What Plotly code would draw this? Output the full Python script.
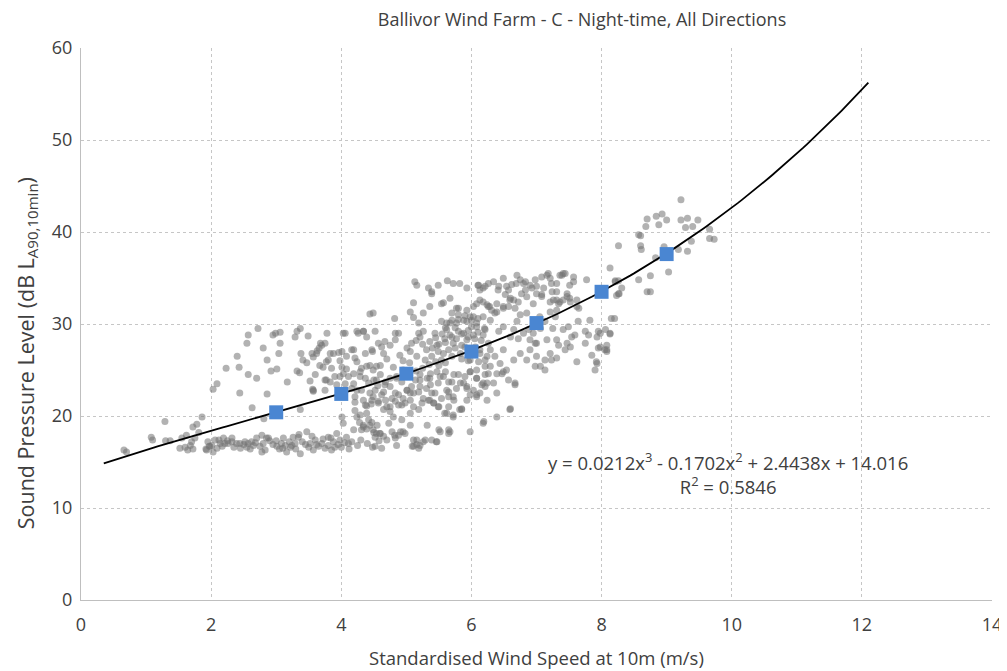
import numpy as np
import plotly.graph_objects as go

# ---------------- data ----------------
# 10-minute measurements: (standardised wind speed m/s, LA90 dB)
pts_low_speed = [
    (0.66,16.3),(0.70,16.1),(1.08,17.7),(1.10,17.4),(1.29,19.4),(1.30,17.3),(1.37,17.3),(1.52,16.5),
    (1.55,17.6),(1.62,17.9),(1.64,16.3),(1.68,16.8),(1.72,16.4),(1.72,18.8),(1.78,19.1),(1.81,18.2),
    (1.86,19.9),(1.92,16.4),(1.97,16.7),(1.70,17.2),(1.75,17.6),(1.60,16.6),(1.95,17.2),(1.93,16.3),(1.98,16.7),
]
pts_band_2_45 = [
    (2.01,16.8),(2.03,16.1),(2.09,16.5),(2.14,17.0),(2.19,17.6),(2.21,17.0),(2.26,17.0),(2.32,17.6),(2.39,17.0),
    (2.44,17.0),(2.52,17.2),(2.57,17.0),(2.62,17.2),(2.65,16.8),(2.75,16.7),(2.78,17.9),(2.80,17.0),(2.85,17.6),
    (2.78,16.1),(2.83,16.3),(2.88,17.6),(3.01,16.7),(3.08,17.0),(3.11,17.6),(3.14,16.8),(3.16,16.1),(3.24,16.8),
    (3.26,17.7),(3.29,17.0),(3.34,17.7),(3.37,15.9),(3.47,18.3),(3.52,17.0),(3.57,16.3),(3.65,16.7),(3.80,16.8),
    (3.80,17.7),(3.85,16.3),(3.88,17.2),(3.93,18.1),(3.98,17.4),(4.08,17.7),(4.11,17.0),(4.16,17.2),(4.19,18.5),
    (4.31,18.5),(4.34,18.8),(4.44,19.0),(4.49,18.5),(4.52,17.7),(4.54,18.1),
    (2.45,16.5),(2.50,16.9),(2.60,16.4),(2.70,17.6),(2.90,17.3),(3.00,17.3),(3.05,16.4),(3.20,17.2),(3.30,16.4),
    (3.40,17.2),(3.45,16.9),(3.60,17.4),(3.70,17.0),(3.75,16.5),(3.90,16.6),(4.00,16.6),(3.55,17.8),(3.35,18.0),
    (2.06,17.4),(2.12,17.4),(2.25,17.3),(2.32,17.2),(2.17,16.7),(2.35,16.6),(2.55,16.6),(2.68,17.1),(2.95,16.9),
    (3.10,16.5),(3.22,16.6),(3.50,16.6),(3.62,16.9),(3.72,17.5),(3.84,17.6),(3.95,16.9),(4.05,17.1),(4.12,16.4),
    (4.25,16.8),(4.30,17.4),(4.40,17.0),(4.48,16.6),(4.58,17.3),(4.62,16.5),
]
pts_mid_2_45 = [
    (2.03,22.9),(2.09,23.5),(2.44,22.5),(2.63,20.9),(2.86,22.4),(2.81,19.7),(3.37,20.7),(3.52,23.8),(3.56,22.9),
    (3.57,22.7),(4.01,19.9),(4.03,19.2),(4.21,20.6),(4.24,19.9),(4.29,20.1),(4.39,20.3),(4.19,23.5),(4.24,22.8),
    (4.21,21.5),(4.28,19.3),(4.34,19.0),(4.39,18.6),(4.42,19.6),(4.50,18.2),(4.47,19.3),(4.34,21.7),(4.39,21.1),
    (4.46,21.3),(4.49,22.1),(4.56,23.3),(3.17,23.7),(3.77,23.9),(3.83,23.7),(3.57,22.8),(3.75,22.8),(3.93,23.4),
    (4.16,23.0),(4.21,22.1),(4.31,22.8),(4.37,21.2),(4.44,22.5),(4.47,21.7),(4.52,22.8),(4.57,21.4),
]
pts_high_2_45 = [
    (2.23,25.2),(2.40,26.5),(2.43,25.3),(2.55,27.9),(2.57,28.8),(2.72,29.5),(2.57,24.5),(2.70,24.1),(2.80,27.4),
    (2.86,26.1),(2.92,24.9),(3.01,25.1),(2.95,28.8),(2.99,29.0),(3.06,29.1),(3.06,27.9),(3.04,26.8),(3.29,28.6),
    (3.32,29.2),(3.37,29.5),(3.38,26.8),(3.32,24.9),(3.36,24.7),(3.41,26.1),(3.47,25.8),(3.49,28.7),(3.55,26.8),
    (3.57,26.4),(3.63,27.1),(3.66,27.4),(3.68,27.9),(3.75,27.9),(3.67,25.5),(3.72,25.3),(3.77,25.9),(3.80,26.1),
    (3.78,29.0),(3.88,26.8),(3.96,26.9),(4.01,27.0),(4.03,29.0),(4.06,29.0),(3.98,26.0),(4.01,25.3),(4.08,25.1),
    (4.11,24.3),(4.19,27.2),(4.21,26.3),(4.26,29.0),(4.34,29.2),(4.37,26.8),(4.39,28.6),(4.44,31.1),(4.52,29.2),
    (4.48,27.0),(4.44,25.5),(4.49,25.0),
    (3.60,24.5),(3.75,23.9),(3.85,25.2),(3.90,24.3),(4.03,24.6),(4.29,24.3),(4.42,23.6),(4.54,23.9),(3.62,26.8),
    (3.70,27.7),(3.83,26.8),(4.08,26.5),(4.16,27.2),(4.24,25.9),(4.31,25.2),(4.39,25.4),(4.47,27.2),(4.54,25.4),
    (3.98,24.3),(4.06,23.5),(4.19,24.6),(4.29,24.8),(4.37,24.1),(4.50,23.9),(4.24,29.2),(4.34,29.2),
]
pts_45_55 = [
    (4.60,24.5),(4.68,23.7),(4.75,24.1),(4.85,24.3),(4.93,23.7),(5.14,23.9),(5.21,24.5),(5.32,24.1),(5.37,24.6),
    (5.47,24.8),(5.21,23.2),(5.37,23.4),
    (4.57,21.6),(4.65,22.6),(4.68,21.7),(4.75,21.0),(4.83,21.6),(4.88,22.3),(4.93,21.2),(5.01,22.8),(5.06,22.5),
    (5.11,22.5),(5.19,20.7),(5.24,21.4),(5.34,21.7),(5.39,22.5),(5.42,21.4),(5.50,21.0),(4.98,21.4),(4.75,20.5),
    (4.65,20.7),
    (4.55,19.0),(4.60,18.1),(4.65,17.8),(4.73,19.2),(4.78,18.3),(4.83,17.6),(4.88,17.9),(4.91,18.3),(4.93,19.6),
    (4.98,18.1),(5.06,19.0),(5.16,17.4),(5.21,16.8),(5.29,17.4),(5.32,19.0),(5.39,17.4),(5.47,17.2),(5.50,18.5),
    (4.85,16.8),(5.09,16.7),(5.19,16.5),
    (4.59,18.1),(4.70,17.4),(4.82,17.9),(4.95,18.3),(5.11,17.4),(5.16,16.9),(5.26,17.2),(5.46,17.2),(5.52,18.3),
    (4.52,16.7),(5.11,16.7),(5.49,21.0),(5.36,21.7),
    (4.57,27.9),(4.62,27.5),(4.67,28.1),(4.75,27.7),(4.83,28.3),(4.83,29.0),(4.88,29.0),(4.90,26.6),(5.01,27.4),
    (5.06,27.0),(5.08,27.9),(5.16,26.5),(5.19,29.0),(5.21,28.6),(5.26,29.2),(5.29,26.1),(5.31,27.2),(5.36,28.1),
    (5.39,26.5),(5.44,29.0),(5.47,27.7),(5.49,27.0),(5.25,27.8),(5.15,28.2),(5.40,27.4),(5.35,25.6),(5.45,28.5),
    (4.62,22.3),(4.67,23.4),(4.70,21.0),(4.75,23.2),(4.78,21.9),(4.83,22.5),(4.85,24.1),(4.88,21.2),(4.95,21.9),
    (5.01,22.8),(5.06,21.7),(5.08,23.2),(5.11,21.0),(5.19,22.6),(5.21,23.9),(5.26,21.9),(5.31,23.0),(5.36,24.1),
    (5.42,21.4),(5.44,22.5),(5.49,23.6),(5.06,20.3),(4.80,19.9),
    (4.49,31.2),(4.82,30.6),(5.11,32.3),(5.26,31.2),(5.36,31.9),(5.06,31.3),(5.11,30.7),(5.19,30.1),(5.39,33.5),
    (5.13,34.6),(5.16,34.2),(5.34,33.9),(5.39,33.3),(5.49,34.2),
    (4.60,25.5),(4.70,26.2),(4.80,25.3),(4.95,25.0),(5.05,25.8),(5.15,24.9),(5.25,25.2),(4.65,26.8),(4.95,26.0),
    (5.45,25.9),
]
pts_55_65 = [
    (5.52,24.3),(5.60,24.8),(5.65,23.7),(5.73,24.5),(5.83,23.6),(5.90,24.3),(5.93,23.2),(5.98,24.8),(6.08,24.1),
    (6.16,23.4),(6.24,23.6),(6.34,23.6),(6.39,24.6),(6.49,24.8),
    (5.65,22.6),(5.65,22.1),(5.73,21.7),(5.85,20.7),(5.93,23.0),(6.08,22.3),(6.39,19.9),(5.62,20.3),(5.65,18.1),
    (5.65,18.5),(5.98,18.3),(6.19,19.4),(5.67,18.3),(6.59,20.7),(5.98,22.3),(5.72,19.9),(5.82,20.7),
    (5.54,26.1),(5.57,26.8),(5.59,28.4),(5.62,29.4),(5.67,28.8),(5.72,27.9),(5.75,27.4),(5.77,28.4),(5.80,29.2),
    (5.83,26.8),(5.85,27.7),(5.88,29.0),(5.93,28.3),(5.95,28.6),(6.00,29.7),(6.03,28.8),(6.11,25.9),(6.13,27.2),
    (6.18,28.8),(6.21,25.4),(6.24,26.5),(6.26,27.9),
    (5.54,21.9),(5.57,24.3),(5.62,22.8),(5.65,21.0),(5.70,23.7),(5.72,22.1),(5.77,23.0),(5.80,24.5),(5.85,20.8),
    (5.88,23.6),(5.93,21.7),(5.98,24.8),(6.03,22.8),(6.08,24.1),(6.13,22.5),(6.18,23.6),(6.24,21.7),(6.26,24.6),
    (5.72,20.1),(5.59,20.3),
    (5.54,30.3),(5.62,30.1),(5.70,30.4),(5.67,30.1),(5.77,30.1),(5.88,30.4),(5.93,30.3),(6.08,30.1),(5.57,32.3),
    (5.77,31.7),(5.80,31.0),(5.93,31.5),(5.98,30.8),(6.03,31.9),(6.13,32.6),(6.18,30.8),(6.24,32.1),
    (5.60,28.0),(5.70,28.6),(5.75,29.6),(5.85,28.9),(5.90,27.5),(5.95,29.3),(6.05,28.4),(6.10,29.1),(6.15,28.2),
    (6.20,29.5),(5.65,27.2),(5.55,28.9),(5.80,30.5),(5.90,30.9),(6.00,30.4),(5.70,31.2),(6.10,30.6),(5.60,29.6),
    (5.50,27.8),(5.85,26.2),(5.95,26.0),(6.05,26.8),(5.70,26.5),(5.60,25.8),(5.50,25.5),
    (6.11,34.2),(6.18,33.9),(6.26,34.4),(6.34,34.6),(6.42,34.1),(5.63,34.7),(5.72,34.4),(5.82,34.4),(5.93,33.9),
    (6.10,34.2),(6.13,33.7),(6.21,34.1),(6.41,33.7),(6.49,34.96),
    (5.54,32.2),(5.67,32.8),(5.80,31.7),(6.28,31.9),(6.39,31.3),(6.49,31.9),
    (6.08,32.2),(6.18,32.4),(6.26,31.9),(6.31,31.5),(6.36,31.2),(6.29,30.4),(6.39,32.2),(6.49,31.7),(6.49,29.7),
    (6.42,29.2),(6.21,29.4),(6.08,29.7),(6.03,30.8),
    (6.06,27.5),(6.13,26.8),(6.21,26.1),(6.29,27.2),(6.36,26.5),(6.44,25.7),(6.49,27.2),(5.98,26.1),(6.08,25.0),
    (6.21,24.5),(6.29,25.4),(6.47,24.6),(6.39,22.5),(6.21,23.2),(6.08,22.1),(6.18,19.2),
]
pts_65_75 = [
    (6.52,33.2),(6.57,33.7),(6.60,32.8),(6.65,32.6),(6.77,33.3),(6.83,33.7),(6.93,33.9),(7.00,33.3),(7.08,33.0),
    (7.11,33.9),(7.24,33.5),(7.26,32.6),(7.36,32.4),(7.47,33.0),(7.52,32.4),(7.47,33.3),
    (6.54,34.1),(6.62,34.3),(6.69,34.4),(6.80,34.4),(6.90,34.2),(7.00,34.1),(7.08,35.1),(7.16,35.3),(7.23,34.4),
    (7.31,33.5),(7.36,35.3),(7.41,35.5),(6.70,35.3),(6.75,34.8),(6.83,34.6),(6.98,34.8),(7.18,35.5),(7.21,34.97),
    (7.31,34.4),(7.39,35.3),(7.44,35.5),
    (6.57,31.9),(6.67,31.7),(6.75,31.0),(6.85,31.2),(6.65,29.4),(6.72,28.4),(6.80,29.0),(6.90,28.3),(7.06,29.5),
    (7.13,30.3),(7.21,31.3),(7.29,30.8),(7.34,32.2),(7.41,29.4),(7.49,29.7),(7.16,28.3),(7.00,27.9),(6.88,29.4),
    (6.60,28.6),(7.31,28.3),(7.47,27.9),
    (6.59,32.6),(6.72,32.4),(6.85,32.97),(6.95,32.2),(7.08,33.2),(7.21,32.4),(7.31,31.5),(7.41,32.6),(7.31,32.6),
    (6.54,25.0),(6.65,26.1),(6.75,26.8),(6.85,26.1),(6.90,27.2),(6.98,27.9),(7.00,26.5),(7.06,25.4),(7.13,26.1),
    (7.21,26.8),(7.31,26.3),(7.34,27.7),(7.44,27.2),(6.67,23.4),(6.57,23.9),(6.60,20.8),(6.67,23.6),(6.98,25.4),
    (7.13,25.0),(7.23,26.1),(6.95,29.0),(7.05,30.8),(6.70,30.3),(7.25,29.5),
]
pts_75_83 = [
    (7.51,34.2),(7.57,34.6),(7.57,35.1),(7.77,34.8),(7.62,32.6),(7.65,31.7),(7.51,32.8),(7.62,31.9),(7.54,28.6),
    (7.59,28.8),(7.64,30.3),(7.75,29.2),(7.82,30.4),(7.80,28.8),(7.93,28.6),(7.95,29.2),(8.06,29.4),(8.13,29.0),
    (7.52,27.5),(7.62,25.9),(7.75,27.9),(7.85,26.6),(7.93,25.7),(7.90,25.0),(7.95,27.4),(8.08,27.7),(8.08,27.2),
    (7.92,25.9),(8.05,27.2),(8.15,30.6),(8.20,30.6),(8.13,28.9),(8.08,27.0),(7.98,29.0),(7.98,27.5),
    (8.13,36.1),(8.21,34.6),(8.26,33.3),(8.31,33.9),(8.21,34.7),(8.26,34.7),(8.27,33.3),(8.23,33.1),
]
pts_high_speed = [
    (8.57,34.8),(8.70,33.5),(8.75,35.25),(9.03,35.65),(8.75,33.5),(9.22,43.5),(8.70,41.4),(8.84,41.7),(8.93,41.95),
    (9.00,41.3),(8.68,40.6),(8.88,40.8),(9.22,41.3),(9.32,41.5),(9.48,41.3),(9.29,40.5),(9.40,40.6),(8.57,39.7),
    (8.60,39.6),(8.26,38.5),(8.60,38.5),(8.61,38.1),(8.96,38.4),(9.18,38.1),(9.32,37.9),(9.38,39.0),(9.66,40.3),
    (9.66,39.3),(9.73,39.2),(8.83,37.2),
]

# bin-averaged levels (blue squares)
bin_speed = [3, 4, 5, 6, 7, 8, 9]
bin_level = [20.4, 22.4, 24.6, 27.0, 30.1, 33.5, 37.6]

# Excel polynomial trendline shown on the chart (highest power first)
trend_coeffs = [0.0212, -0.1702, 2.4438, 14.016]
trend_start, trend_end = 0.35, 12.1

x_ticks = [0, 2, 4, 6, 8, 10, 12, 14]
y_ticks = [0, 10, 20, 30, 40, 50, 60]

title_text = "Ballivor Wind Farm - C - Night-time, All Directions"
x_title = "Standardised Wind Speed at 10m (m/s)"
y_title = "Sound Pressure Level (dB L<sub>A90,10min</sub>)"
eq_text = "y = 0.0212x<sup>3</sup> - 0.1702x<sup>2</sup> + 2.4438x + 14.016<br>R<sup>2</sup> = 0.5846"

# ---------------- figure ----------------
all_pts = (pts_low_speed + pts_band_2_45 + pts_mid_2_45 + pts_high_2_45 + pts_45_55
           + pts_55_65 + pts_65_75 + pts_75_83 + pts_high_speed)
sx = [p[0] for p in all_pts]
sy = [p[1] for p in all_pts]

FONT = "'Open Sans', Lato, sans-serif"
TXT = "#404040"

# the page body adds an 8px margin; the figure is sized to fill the rest of the window
FIG_W, FIG_H = 999, 663

fig = go.Figure()
fig.add_trace(go.Scatter(
    x=sx, y=sy, mode="markers",
    marker=dict(size=7, color="rgba(115,115,115,0.55)", line=dict(width=0)),
    hoverinfo="skip"))

tx = np.linspace(trend_start, trend_end, 200)
ty = np.polyval(trend_coeffs, tx)
fig.add_trace(go.Scatter(x=tx, y=ty, mode="lines",
                         line=dict(color="black", width=1.8), hoverinfo="skip"))

fig.add_trace(go.Scatter(
    x=bin_speed, y=bin_level, mode="markers",
    marker=dict(symbol="square", size=14, color="#4a86d2", line=dict(width=0))))

fig.update_layout(
    width=FIG_W, height=FIG_H,
    margin=dict(l=73, r=15, t=40, b=71),
    paper_bgcolor="white", plot_bgcolor="white",
    showlegend=False,
    font=dict(family=FONT, color=TXT, size=18),
    title=dict(text=title_text, x=0.55, xanchor="center", xref="paper",
               y=1 - 12 / FIG_H, yref="container", yanchor="middle",
               font=dict(family=FONT, size=18, color=TXT)),
)
fig.update_xaxes(
    range=[0, 14], tickvals=x_ticks, ticktext=[str(v) for v in x_ticks],
    showgrid=True, gridcolor="#c6c6c6", griddash="dot", gridwidth=1,
    showline=True, linecolor="#bfbfbf", linewidth=1.3, zeroline=False,
    ticks="", tickfont=dict(family=FONT, size=18, color=TXT), ticklabelstandoff=8,
    automargin=False,
)
fig.update_yaxes(
    range=[0, 60], tickvals=y_ticks, ticktext=[str(v) for v in y_ticks],
    showgrid=True, gridcolor="#c6c6c6", griddash="dot", gridwidth=1,
    showline=True, linecolor="#bfbfbf", linewidth=1.3, zeroline=False,
    ticks="", tickfont=dict(family=FONT, size=18, color=TXT), ticklabelstandoff=4,
    automargin=False,
)

fig.add_annotation(text=x_title, xref="paper", yref="paper", x=0.5, y=-0.105,
                   xanchor="center", yanchor="middle", showarrow=False,
                   font=dict(family=FONT, size=18.5, color=TXT))
fig.add_annotation(text=y_title, xref="paper", yref="paper", x=-0.0593, y=0.447,
                   xanchor="center", yanchor="middle", showarrow=False, textangle=-90,
                   font=dict(family=FONT, size=21.5, color=TXT))
fig.add_annotation(text=eq_text, xref="paper", yref="paper", x=0.710, y=0.229,
                   xanchor="center", yanchor="middle", showarrow=False, align="center",
                   font=dict(family=FONT, size=18.5, color=TXT))

fig.write_html("out.html")
